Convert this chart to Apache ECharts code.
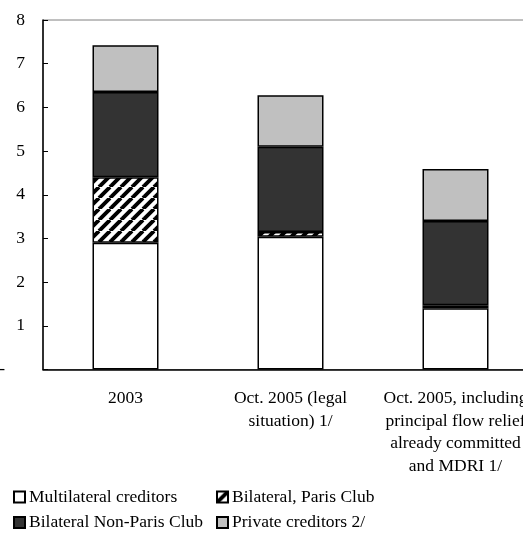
<!DOCTYPE html>
<html>
<head>
<meta charset="utf-8">
<script src="https://cdn.jsdelivr.net/npm/echarts@6/dist/echarts.min.js"></script>
<style>
  html, body { margin: 0; padding: 0; background: #fff; }
  #chart { width: 523px; height: 533px; }
</style>
</head>
<body>
<div id="chart"></div>
<script>
// Debt stock by creditor group (stacked), three scenarios
const categories = [
  '2003',
  'Oct. 2005 (legal\nsituation) 1/',
  'Oct. 2005, including\nprincipal flow relief\nalready committed\nand MDRI 1/'
];
const seriesNames = [
  'Multilateral creditors',
  'Bilateral, Paris Club',
  'Bilateral Non-Paris Club',
  'Private creditors 2/'
];
const multilateral = [2.9, 3.04, 1.4];
const parisClub = [1.5, 0.11, 0.07];
const nonParisClub = [1.95, 1.95, 1.93];
const privateCreditors = [1.07, 1.18, 1.19];
const yTicks = [0, 1, 2, 3, 4, 5, 6, 7, 8];

const FONT = '"Liberation Serif", "Times New Roman", serif';

// diagonal black/white hatch used for the Paris Club segment
function hatchPattern() {
  const s = 11;
  const c = document.createElement('canvas');
  c.width = s; c.height = s;
  const g = c.getContext('2d');
  g.fillStyle = '#fff';
  g.fillRect(0, 0, s, s);
  g.strokeStyle = '#000';
  g.lineWidth = 3.9;
  for (const k of [-s, 0, s]) {
    g.beginPath();
    g.moveTo(k, s);
    g.lineTo(k + s, 0);
    g.stroke();
  }
  return c;
}

const fills = [
  '#ffffff',
  { image: hatchPattern(), repeat: 'repeat' },
  '#333333',
  '#c0c0c0'
];
const values = [multilateral, parisClub, nonParisClub, privateCreditors];

const chart = echarts.init(document.getElementById('chart'), null, { renderer: 'canvas' });

const legendPos = [
  { left: 13, top: 488 },
  { left: 216, top: 488 },
  { left: 13, top: 513.5 },
  { left: 216, top: 513.5 }
];

chart.setOption({
  animation: false,
  backgroundColor: '#fff',
  grid: {
    left: 43, top: 20, width: 495, height: 349.5,
    outerBoundsMode: 'none',
    containLabel: false,
    show: true, borderColor: '#808080', borderWidth: 1, backgroundColor: 'transparent'
  },
  legend: seriesNames.map((n, i) => ({
    data: [n],
    left: legendPos[i].left,
    top: legendPos[i].top,
    padding: 0,
    icon: 'rect',
    itemWidth: 11,
    itemHeight: 11,
    itemGap: 0,
    selectedMode: false,
    textStyle: { fontFamily: FONT, fontSize: 17.5, color: '#000', padding: [0, 0, 0, -1] }
  })),
  xAxis: {
    type: 'category',
    data: categories,
    axisLine: { lineStyle: { color: '#000', width: 1.5 } },
    axisTick: { show: false },
    axisLabel: {
      interval: 0,
      margin: 18,
      fontFamily: FONT,
      fontSize: 17.5,
      lineHeight: 22.5,
      color: '#000',
      align: 'center',
      hideOverlap: false
    }
  },
  yAxis: {
    type: 'value',
    min: yTicks[0],
    max: yTicks[yTicks.length - 1],
    interval: 1,
    axisLine: { show: true, lineStyle: { color: '#000', width: 1.5 } },
    axisTick: { show: true, inside: true, length: 5, lineStyle: { color: '#000' } },
    splitLine: { show: false },
    axisLabel: {
      margin: 18,
      fontFamily: FONT,
      fontSize: 17.5,
      color: '#000',
      formatter: v => (v === 0 ? '{d|-}' : String(v)),
      rich: { d: { fontFamily: FONT, fontSize: 17.5, color: '#000', padding: [0, 20, 0, 0] } }
    }
  },
  series: seriesNames.map((n, i) => ({
    name: n,
    type: 'bar',
    stack: 'debt',
    barWidth: 66,
    data: values[i],
    itemStyle: { color: fills[i], borderColor: '#000', borderWidth: 1.5 },
    emphasis: { disabled: true }
  }))
});
</script>
</body>
</html>
